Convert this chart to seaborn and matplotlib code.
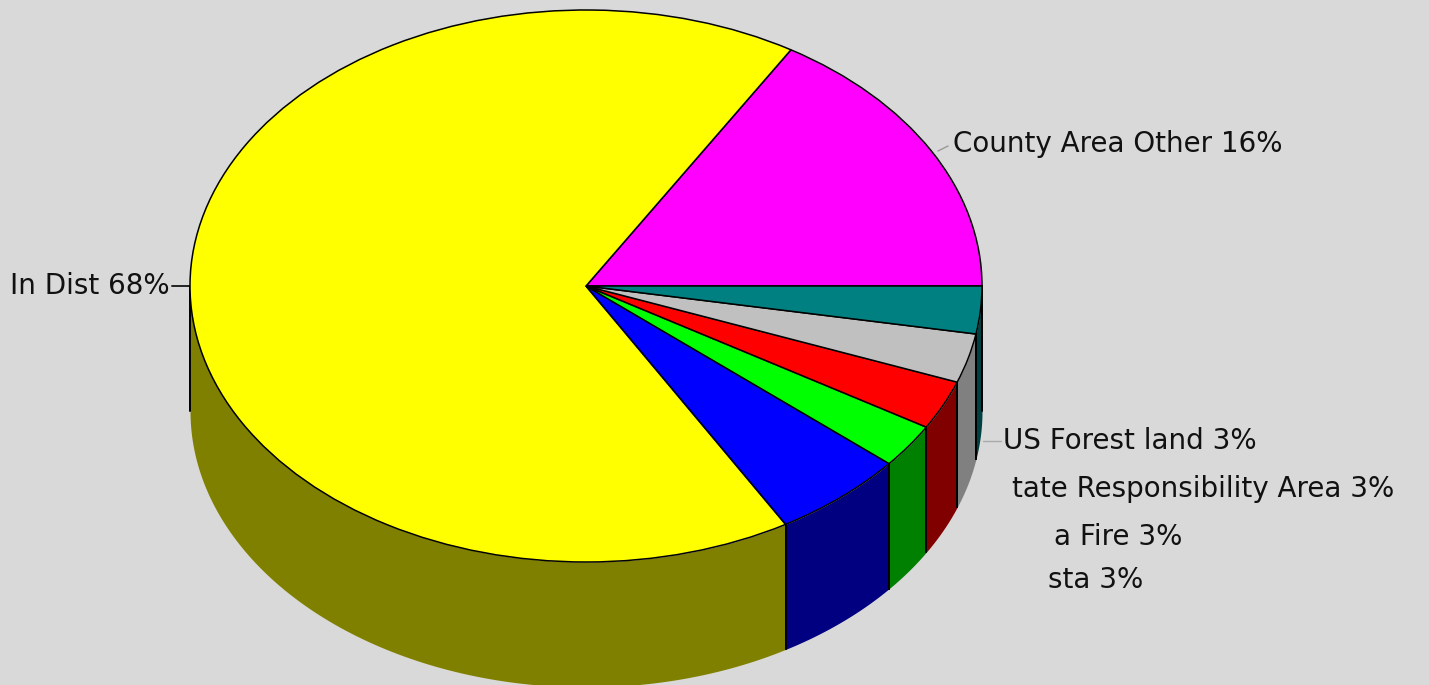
import numpy as np
import matplotlib
matplotlib.use("Agg")
import matplotlib.pyplot as plt
import seaborn as sns

# Share of incidents by area, anticlockwise from the east point of the pie
area_names = ["County Area Other", "In Dist", None, "sta", "a Fire",
              "tate Responsibility Area", "US Forest land"]
area_shares = [16.45, 67.5, 5.5, 2.6, 2.9, 2.9, 2.8]

top_colors = ["#FF00FF", "#FFFF00", "#0000FF", "#00FF00", "#FF0000", "#C0C0C0", "#008080"]
wall_colors = ["#800080", "#808000", "#000080", "#008000", "#800000", "#808080", "#004040"]

W, H = 1429, 685
CX, CY, RX, RY, DEPTH = 586, 286, 396, 276, 125
BG = "#D9D9D9"
FONT = "DejaVu Sans"

sns.set_theme(style="white", rc={"figure.facecolor": BG, "axes.facecolor": BG,
                                 "savefig.facecolor": BG})


def to_data(px, py):
    """Pixel position on the canvas to pie units."""
    return (px - CX) / RX, (CY - py) / RY


fig = plt.figure(figsize=(W / 100, H / 100), dpi=100)
ax = fig.add_axes([0, 0, 1, 1])

ax.pie(area_shares, colors=sns.color_palette(top_colors), startangle=0,
       counterclock=True, radius=1,
       wedgeprops=dict(edgecolor="black", linewidth=1.1, zorder=5))
ax.set_aspect("auto")
ax.set_xlim(to_data(0, 0)[0], to_data(W, 0)[0])
ax.set_ylim(to_data(0, H)[1], to_data(0, 0)[1])

# Rim of the disc: only the part of each slice on the near (lower) half shows
depth = DEPTH / RY
edges = np.concatenate([[0], np.cumsum(area_shares)]) / np.sum(area_shares) * 360
for a0, a1, wall in zip(edges[:-1], edges[1:], wall_colors):
    lo, hi = max(a0, 180), min(a1, 360)
    if hi <= lo:
        continue
    th = np.radians(np.linspace(lo, hi, 120))
    x, y = np.cos(th), np.sin(th)
    ax.fill_between(x, y, y - depth, color=wall, linewidth=0, zorder=2)
    for end in (th[0], th[-1]):
        ax.plot([np.cos(end)] * 2, [np.sin(end), np.sin(end) - depth],
                color="black", lw=1.4, zorder=3)

# Labels and their short leader lines
label_pos = {"County Area Other": (953, 144), "In Dist": (10, 286),
             "US Forest land": (1003, 441), "tate Responsibility Area": (1012, 489),
             "a Fire": (1054, 537), "sta": (1048, 580)}
for name, share in zip(area_names, area_shares):
    if name is None:
        continue
    px, py = label_pos[name]
    ax.text(*to_data(px, py), f"{name} {share:.0f}%", ha="left", va="center",
            family=FONT, fontsize=20, color="#111111", zorder=6)

leaders = [((172, 286), (190, 286), "#222222", 1.4),
           ((938, 151), (948, 146), "#999999", 1.0),
           ((983, 441), (1001, 441), "#aaaaaa", 1.0)]
for (x0, y0), (x1, y1), col, lw in leaders:
    p0, p1 = to_data(x0, y0), to_data(x1, y1)
    ax.plot([p0[0], p1[0]], [p0[1], p1[1]], color=col, lw=lw, zorder=1)

fig.savefig("out.png", dpi=100)
